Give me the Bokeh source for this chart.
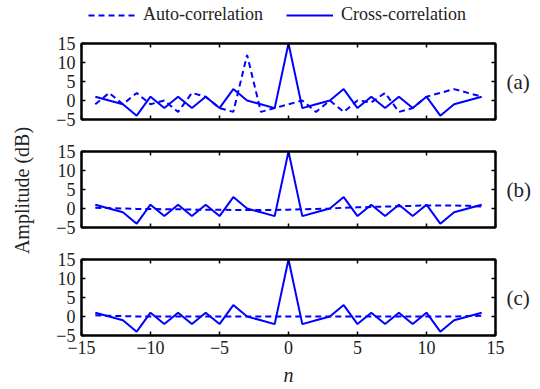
import math
from bokeh.plotting import figure
from bokeh.models import (Legend, LegendItem, LinearAxis, FixedTicker, Range1d, Title)
from bokeh.layouts import column, row
from bokeh.embed import file_html
from bokeh.resources import INLINE

# ---- data ----
n = [-14, -13, -12, -11, -10, -9, -8, -7, -6, -5, -4, -3, -2, -1, 0,
     1, 2, 3, 4, 5, 6, 7, 8, 9, 10, 11, 12, 13, 14]
cross = [1, 0, -1, -4, 1, -2, 1, -2, 1, -2, 3, 0, -1, -2, 15,
         -2, -1, 0, 3, -2, 1, -2, 1, -2, 1, -4, -1, 0, 1]
auto_a = [-1, 2, -1, 2, -1, 0, -3, 2, 1, -2, -3, 12, -3, -2, -1,
          0, -3, 0, -3, 0, -0.5, 2, -3, -2, 1, 2, 3, 2, 1]
auto_b = [0.2, 0.1, 0.0, -0.1, -0.1, -0.2, -0.2, -0.3, -0.3, -0.3, -0.4, -0.4, -0.4, -0.4, -0.3,
          -0.2, -0.1, 0.0, 0.2, 0.3, 0.4, 0.5, 0.6, 0.7, 0.8, 0.8, 0.8, 0.7, 0.5]
auto_c = [0.3, 0.2, 0.1, 0.0, 0.0, 0.0, 0.0, 0.0, 0.0, 0.0, 0.0, 0.0, 0.0, 0.0, 0.0,
          0.0, 0.0, 0.0, 0.0, 0.0, 0.0, 0.0, 0.0, 0.0, 0.0, 0.0, 0.0, 0.1, 0.2]
panel_tags = ["(a)", "(b)", "(c)"]
x_ticks = [-15, -10, -5, 0, 5, 10, 15]
y_ticks = [-5, 0, 5, 10, 15]
legend_labels = ["Auto-correlation", "Cross-correlation"]
y_title = "Amplitude (dB)"

FONT = "'Liberation Serif', 'Times New Roman', serif"
BLUE = "#0000FF"
TXT = "#222222"
W_YL = 46
W_LEFT, W_FRAME, W_RIGHT = 35, 414, 45
TOTAL_H = 387


def minus(v):
    return ("\u2212" + str(abs(v))) if v < 0 else str(v)


def hidden_axis(ticks):
    return LinearAxis(ticker=FixedTicker(ticks=ticks), major_tick_in=4, major_tick_out=0,
                      major_label_text_font_size="1px", major_label_text_color=None,
                      major_label_standoff=0, minor_tick_line_color=None,
                      axis_line_width=2, major_tick_line_width=1.5)


def make_panel(auto, tag, top_border, bottom_border, show_x):
    p = figure(frame_width=W_FRAME, frame_height=76,
               min_border_left=W_LEFT, min_border_right=W_RIGHT,
               min_border_top=top_border, min_border_bottom=bottom_border,
               x_axis_location=None, y_axis_location=None,
               x_range=Range1d(-15, 15), y_range=Range1d(-5, 15),
               output_backend="svg", toolbar_location=None,
               background_fill_color="white", border_fill_color="white")
    p.grid.visible = False
    p.outline_line_color = "black"
    p.outline_line_width = 2

    yl = LinearAxis(ticker=FixedTicker(ticks=y_ticks), major_tick_in=4, major_tick_out=0,
                    minor_tick_line_color=None, axis_line_width=2, major_tick_line_width=1.5,
                    major_label_text_font=FONT, major_label_text_font_size="18px",
                    major_label_text_color=TXT, major_label_standoff=6,
                    major_label_overrides={v: minus(v) for v in y_ticks})
    p.add_layout(yl, "left")

    if show_x:
        xb = LinearAxis(ticker=FixedTicker(ticks=x_ticks), major_tick_in=4, major_tick_out=0,
                        minor_tick_line_color=None, axis_line_width=2, major_tick_line_width=1.5,
                        major_label_text_font=FONT, major_label_text_font_size="18px",
                        major_label_text_color=TXT, major_label_standoff=5,
                        major_label_overrides={v: minus(v) for v in x_ticks},
                        axis_label="n", axis_label_text_font=FONT,
                        axis_label_text_font_style="italic", axis_label_text_font_size="20px",
                        axis_label_standoff=7, axis_label_text_color=TXT)
    else:
        xb = hidden_axis(x_ticks)
    p.add_layout(xb, "below")

    p.add_layout(hidden_axis(x_ticks), "above")
    ra_ = hidden_axis(y_ticks)
    ra_.axis_label = tag
    ra_.axis_label_orientation = "horizontal"
    ra_.axis_label_text_font = FONT
    ra_.axis_label_text_font_style = "normal"
    ra_.axis_label_text_font_size = "21px"
    ra_.axis_label_text_color = TXT
    ra_.axis_label_standoff = 11
    p.add_layout(ra_, "right")

    r_auto = p.line(n, auto, line_color=BLUE, line_width=2, line_dash="6 4")
    r_cross = p.line(n, cross, line_color=BLUE, line_width=2)
    return p, r_auto, r_cross


# legend strip on top (its own copies of the two series lie outside its visible range;
# they only supply the legend samples)
LEG_H = 29
pl = figure(width=W_LEFT + W_FRAME + W_RIGHT, height=LEG_H, min_border=0,
            min_border_left=W_LEFT, min_border_right=W_RIGHT,
            x_axis_location=None, y_axis_location=None,
            x_range=Range1d(100, 101), y_range=Range1d(100, 101),
            output_backend="svg", toolbar_location=None, outline_line_color=None)
pl.grid.visible = False
la = pl.line(n, auto_a, line_color=BLUE, line_width=2, line_dash="6 4")
lc = pl.line(n, cross, line_color=BLUE, line_width=2)
legend = Legend(items=[LegendItem(label=legend_labels[0], renderers=[la]),
                       LegendItem(label=legend_labels[1], renderers=[lc])],
                orientation="horizontal", location=(7, 4),
                glyph_width=47, glyph_height=20, label_standoff=8, spacing=23,
                padding=0, margin=0, border_line_color=None, background_fill_alpha=0,
                label_text_font=FONT, label_text_font_size="18px", label_text_color=TXT,
                label_height=20)
pl.add_layout(legend, "center")

pa, _, _ = make_panel(auto_a, panel_tags[0], 14, 16, False)
pb, _, _ = make_panel(auto_b, panel_tags[1], 16, 16, False)
pc, _, _ = make_panel(auto_c, panel_tags[2], 16, 52, True)

# y-axis title strip on the left
py = figure(width=W_YL, height=TOTAL_H, min_border=0, min_border_left=32, min_border_bottom=7,
            x_axis_location=None, y_axis_location=None,
            x_range=Range1d(0, 1), y_range=Range1d(0, 1),
            output_backend="svg", toolbar_location=None, outline_line_color=None)
py.grid.visible = False
py.add_layout(Title(text=y_title, align="center", text_font=FONT, text_font_size="20px",
                    text_font_style="normal", text_color=TXT, standoff=0, offset=0), "left")

layout = row(py, column(pl, pa, pb, pc, spacing=0), spacing=0)
open("out.html", "w").write(file_html(layout, INLINE))
